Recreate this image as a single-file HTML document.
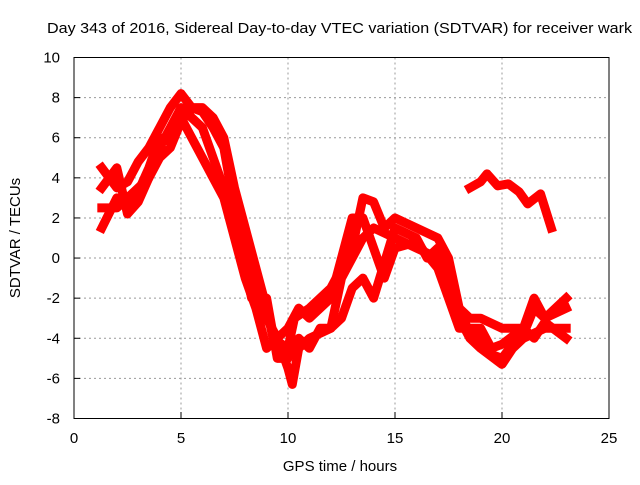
<!DOCTYPE html>
<html><head><meta charset="utf-8"><style>
body{margin:0;background:#fff}
svg{font-family:"Liberation Sans",sans-serif;font-size:15px}
</style></head><body>
<svg id="c" width="640" height="480" xmlns="http://www.w3.org/2000/svg">
<text x="47" y="33" textLength="585" lengthAdjust="spacingAndGlyphs">Day 343 of 2016, Sidereal Day-to-day VTEC variation (SDTVAR) for receiver wark</text>
<text x="340" y="471" text-anchor="middle">GPS time / hours</text>
<text transform="translate(20,238) rotate(-90)" text-anchor="middle">SDTVAR / TECUs</text>
<g id="grid"></g>
<g id="series"></g>
<rect x="74" y="57.5" width="535" height="361" fill="none" stroke="#000" stroke-width="1"/>
<g id="ticks"></g>
</svg>
<script>
const xTicks=[0,5,10,15,20,25];
const yTicks=[-8,-6,-4,-2,0,2,4,6,8,10];
const seriesA=[[1.3,4.5],[2,3.5],[2.5,3.8],[3,4.8],[3.5,5.5],[4,6.5],[4.5,7.5],[5,8.2],[5.5,7.5],[6,7.5],[6.5,7],[7,6],[7.5,3.5],[8,1.5],[8.5,-0.5],[9,-2.5],[9.3,-4],[10,-4.5],[10.3,-3],[11,-2.5],[12,-1.5],[13,0.5],[13.5,3],[14,2.8],[14.5,1.5],[15,2],[16,1.5],[17,1],[17.5,0],[18,-2.5],[18.5,-3],[19,-3],[20,-3.5],[21,-3.5],[21.5,-2],[22,-3],[23,-2]];
const seriesB=[[1.3,2.5],[2,2.5],[2.5,3],[3,3.5],[3.5,4],[4,5.5],[4.5,6.5],[5,7.5],[5.5,7],[6,6.5],[6.5,5],[7,3.5],[7.5,2],[8,0],[8.5,-1.5],[9,-3],[9.5,-4],[10,-5.5],[10.2,-6.3],[10.5,-4.5],[11,-4],[12,-3.5],[12.5,-1],[13,0],[13.5,1],[14,1.5],[15,1],[16,0.5],[17,0],[17.5,-1],[18,-3],[18.5,-4],[19,-4.5],[20,-5.3],[20.5,-4.5],[21,-4],[22,-3.5],[23,-3.5]];
const seriesC=[[1.3,1.5],[2,3],[2.5,2.5],[3,3.3],[3.5,4.5],[4,6],[4.5,5.8],[5,7],[5.5,6],[6,5],[6.5,4],[7,3],[7.5,1],[8,-1],[8.5,-2.5],[9,-4.5],[9.5,-4],[10,-3.5],[10.5,-2.5],[11,-3],[12,-2],[12.5,0],[13,2],[13.5,2],[14,0.5],[14.5,-1],[15,0.5],[16,0.8],[17,-0.5],[17.5,-2],[18,-3.5],[19,-3.5],[19.5,-4.5],[20,-4.3],[21,-3.5],[21.5,-4],[22,-3.2],[23,-4]];
const seriesD=[[1.3,3.5],[2,4.5],[2.5,2.2],[3,2.8],[3.5,4],[4,5],[4.5,5.5],[5,6.8],[5.5,7.5],[6,7.3],[6.5,6.5],[7,5.5],[7.5,2.5],[8,-0.5],[8.3,-2],[9,-2],[9.5,-5],[10,-5],[10.5,-4],[11,-4.5],[11.5,-3.5],[12,-3.5],[12.5,-3],[13,-1.5],[13.5,-1],[14,-2],[15,1.5],[16,1],[16.5,0],[17,0.5],[17.5,-1],[18,-2.5],[18.5,-3.8],[19,-4],[19.5,-4.8],[20,-5],[20.5,-4.3],[21,-3.8],[21.5,-2.5],[22,-3],[23,-2.5]];
const seriesE=[[18.5,3.5],[19,3.8],[19.3,4.2],[19.8,3.6],[20.3,3.7],[20.8,3.3],[21.2,2.7],[21.8,3.2],[22.3,1.5]];
const allSeries=[seriesA,seriesB,seriesC,seriesD,seriesE];
const NS="http://www.w3.org/2000/svg";
const X=v=>74+v*(535/25);
const Y=v=>57.5+(10-v)*(361/18);
function mk(t,a,p){const e=document.createElementNS(NS,t);for(const k in a)e.setAttribute(k,a[k]);p.appendChild(e);return e;}
const g=document.getElementById('grid'),tk=document.getElementById('ticks'),s=document.getElementById('series');
xTicks.forEach(v=>{
 if(v>0&&v<25){const l=mk('line',{x1:X(v),x2:X(v),y1:57.5,y2:418.5,stroke:'#999','stroke-dasharray':'2,3'},g);
 
 }
 const t=mk('text',{x:X(v),y:443,'text-anchor':'middle'},tk);t.textContent=v;
 
 
 mk('line',{x1:X(v),x2:X(v),y1:418.5,y2:412,stroke:'#000'},tk);
});
yTicks.forEach(v=>{
 if(v>-8&&v<10){const l=mk('line',{x1:74,x2:609,y1:Y(v),y2:Y(v),stroke:'#999','stroke-dasharray':'2,3'},g);
 
 }
 const t=mk('text',{x:60,y:Y(v)+5,'text-anchor':'end'},tk);t.textContent=v;
 
 
 mk('line',{x1:74,x2:80,y1:Y(v),y2:Y(v),stroke:'#000'},tk);
});
allSeries.forEach((d,i)=>{
 const p=mk('polyline',{points:d.map(q=>X(q[0])+','+Y(q[1])).join(' '),fill:'none',stroke:'#f00','stroke-width':9,'stroke-linejoin':'round','stroke-linecap':'square'},s);
 
 
});
</script>
</body></html>
